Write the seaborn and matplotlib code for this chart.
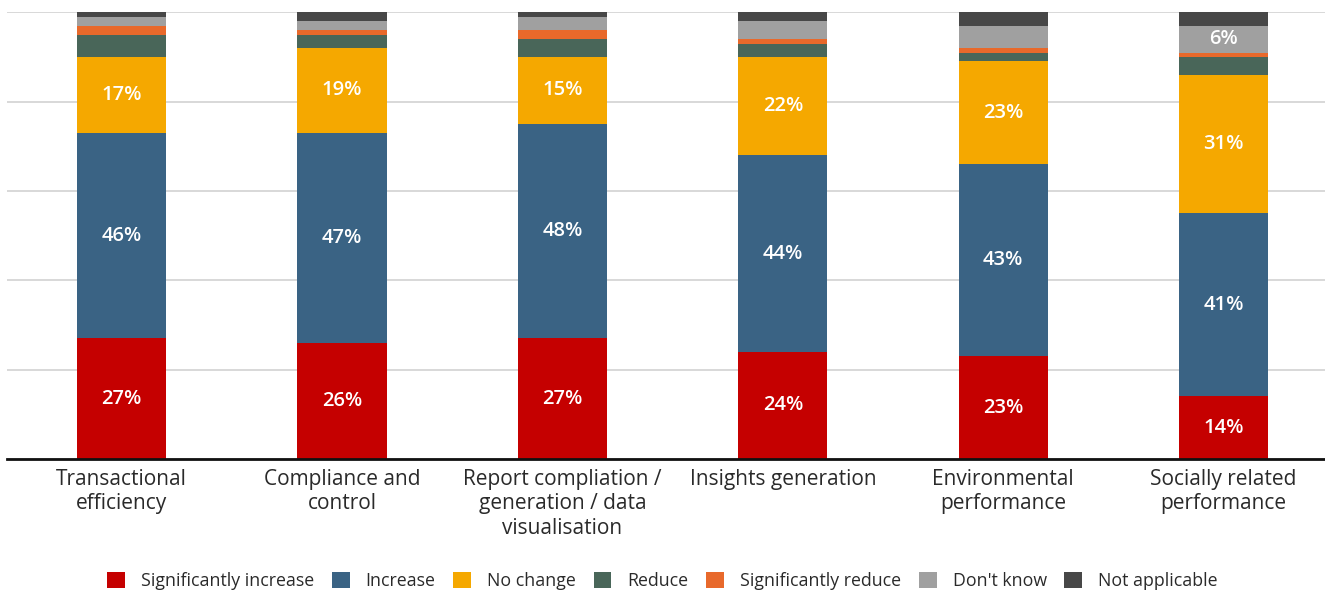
import numpy as np
import pandas as pd
import matplotlib
matplotlib.use("Agg")
import matplotlib.pyplot as plt
from matplotlib.patches import Patch
import seaborn as sns

categories = [
    "Transactional\nefficiency",
    "Compliance and\ncontrol",
    "Report compliation /\ngeneration / data\nvisualisation",
    "Insights generation",
    "Environmental\nperformance",
    "Socially related\nperformance",
]
series_names = [
    "Significantly increase", "Increase", "No change", "Reduce",
    "Significantly reduce", "Don't know", "Not applicable",
]
sig_increase = [27, 26, 27, 24, 23, 14]
increase = [46, 47, 48, 44, 43, 41]
no_change = [17, 19, 15, 22, 23, 31]
reduce_ = [5, 3, 4, 3, 2, 4]
sig_reduce = [2, 1, 2, 1, 1, 1]
dont_know = [2, 2, 3, 4, 5, 6]
not_applicable = [1, 2, 1, 2, 3, 3]
colors = ["#C50000", "#3A6384", "#F5A800", "#496659", "#E8692B", "#A0A0A0", "#474747"]

values = [sig_increase, increase, no_change, reduce_, sig_reduce, dont_know, not_applicable]

sns.set_theme(style="white")
plt.rcParams["font.family"] = ["Open Sans", "DejaVu Sans"]

fig = plt.figure(figsize=(13.25, 5.92), dpi=100)
ax = fig.add_axes([7 / 1325, 133 / 592, 1 - 7 / 1325, (459 - 12.3) / 592])

cum = np.cumsum(np.array(values), axis=0)
# Draw the cumulative totals from the top layer downward so each segment shows
for i in range(len(series_names) - 1, -1, -1):
    df = pd.DataFrame({"cat": categories, "val": cum[i]})
    sns.barplot(data=df, x="cat", y="val", color=colors[i], width=0.405,
                saturation=1, linewidth=0, ax=ax, order=categories)

for i, name in enumerate(series_names):
    for j in range(len(categories)):
        v = values[i][j]
        if v >= 6:
            mid = cum[i][j] - v / 2
            ax.text(j, mid, f"{v}%", ha="center", va="center", color="white",
                    fontsize=14.5, fontweight="semibold")

ax.set_ylim(0, 100)
ax.set_xlim(-0.52, 5.46)
ax.set_yticks([0, 20, 40, 60, 80, 100])
ax.set_yticklabels([])
ax.yaxis.grid(True, color="#d2d2d2", linewidth=1.2)
ax.set_axisbelow(True)
ax.set_xlabel("")
ax.set_ylabel("")
for s in ["top", "right", "left"]:
    ax.spines[s].set_visible(False)
ax.spines["bottom"].set_color("#111111")
ax.spines["bottom"].set_linewidth(2)
ax.tick_params(axis="x", length=0, pad=7, labelsize=15, colors="#2a2a2a")
ax.tick_params(axis="y", length=0)
for lbl in ax.get_xticklabels():
    lbl.set_verticalalignment("top")
    lbl.set_linespacing(1.22)

handles = [Patch(facecolor=c, edgecolor="none") for c in colors]
fig.legend(handles, series_names, loc="center", bbox_to_anchor=(0.5, 0.0186),
           ncol=7, frameon=False, fontsize=12.8, handlelength=1.0,
           handleheight=1.0, handletextpad=0.9, columnspacing=1.0,
           labelcolor="#2a2a2a")

fig.savefig("out.png", dpi=100)
